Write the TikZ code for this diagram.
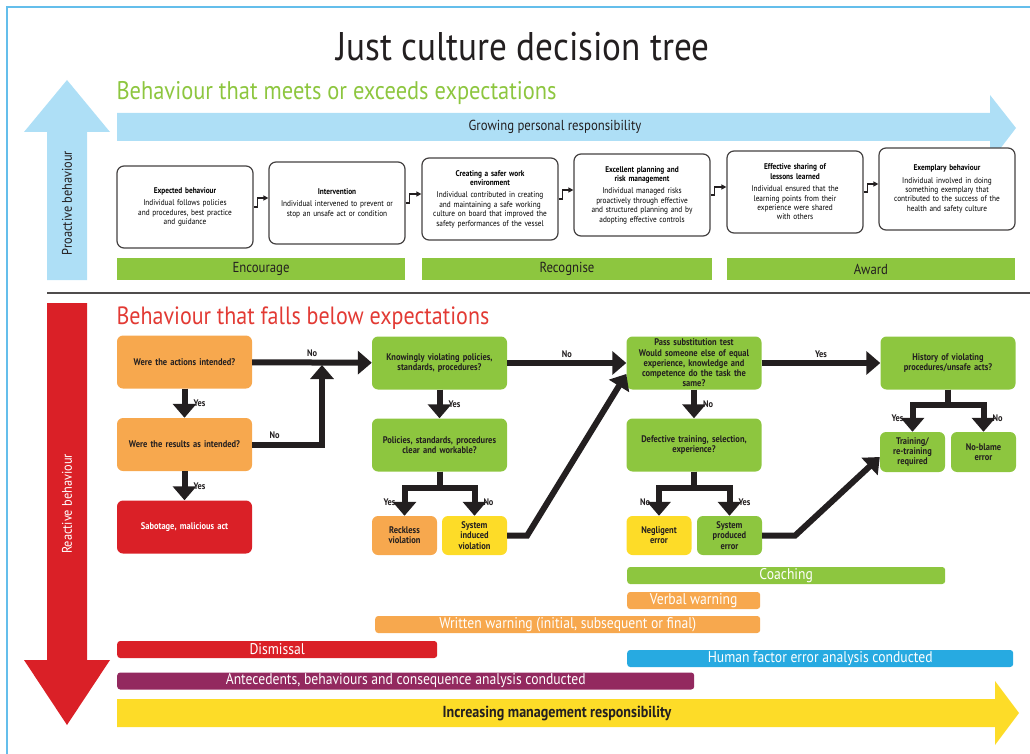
\documentclass[tikz,border=0pt]{standalone}
\usepackage{fontspec}
\setmainfont[FakeStretch=0.88]{PT Sans}
\usetikzlibrary{positioning,arrows.meta,calc}
\definecolor{framecolor}{RGB}{100,190,235}
\definecolor{skyblue}{RGB}{174,223,246}
\definecolor{leafgreen}{RGB}{141,198,63}
\definecolor{amber}{RGB}{247,168,78}
\definecolor{alertred}{RGB}{218,32,39}
\definecolor{headred}{RGB}{226,58,52}
\definecolor{sunyellow}{RGB}{253,220,40}
\definecolor{oceanblue}{RGB}{39,170,225}
\definecolor{plum}{RGB}{147,41,95}
\definecolor{inkcolor}{RGB}{35,31,32}

\begin{document}
\begin{tikzpicture}[x=1pt,y=-1pt,
    stage/.style={rectangle, draw=inkcolor!85, line width=1.2pt, fill=white, rounded corners=7pt, minimum width=136pt, minimum height=82pt, text width=132pt, align=center, inner sep=1pt, font=\fontsize{8.3}{9.4}\selectfont},
    stepline/.style={draw=inkcolor, line width=1.3pt, -{Triangle[length=5pt,width=5pt]}},
    stripe/.style={rectangle, fill=leafgreen, minimum height=22pt, inner sep=0pt, text=inkcolor, font=\fontsize{14.5}{16}\selectfont},
    decide/.style={rectangle, rounded corners=6pt, minimum width=135pt, minimum height=53pt, text width=132pt, align=center, inner sep=1pt, text=inkcolor, font=\bfseries\fontsize{9.6}{10.2}\selectfont},
    outcome/.style={decide, minimum width=65pt, text width=63pt, minimum height=39pt},
    flow/.style={draw=inkcolor, line width=6pt, -{Triangle[length=14pt,width=23pt]}},
    tag/.style={inner xsep=6pt, inner ysep=2.5pt, text=inkcolor, font=\bfseries\fontsize{9.5}{11}\selectfont},
    band/.style={rectangle, rounded corners=3pt, minimum height=17pt, inner sep=0pt, anchor=west, text=white, font=\fontsize{15.5}{16}\selectfont}
]
\useasboundingbox (0,0) rectangle (1030,754);
\draw[framecolor, line width=2pt] (7,754) -- (7,7) -- (1030,7);

\node[text=inkcolor, font=\fontsize{40}{44}\selectfont] (title) at (523,47) {Just culture decision tree};

% proactive part
\fill[skyblue] (47,280) -- (47,132) -- (24,132) -- (67,80) -- (110,132) -- (87,132) -- (87,280) -- cycle;
\node[rotate=90, text=inkcolor, font=\fontsize{14}{16}\selectfont] (proact) at (67,203) {Proactive behaviour};
\node[anchor=west, text=leafgreen, font=\fontsize{25.5}{28}\selectfont] (meets) at (113,93) {Behaviour that meets or exceeds expectations};
\fill[skyblue] (117,113) -- (990,113) -- (990,95) -- (1016,128) -- (990,162) -- (990,141) -- (117,141) -- cycle;
\node[text=inkcolor, font=\fontsize{14.5}{16}\selectfont] (grow) at (555,127) {Growing personal responsibility};

\node[stage] (expect) at (185,207) {{\bfseries Expected behaviour}\\[3pt]Individual follows policies\\and procedures, best practice\\and guidance};
\node[stage] (intervene) at (337,203) {{\bfseries Intervention}\\[3pt]Individual intervened to prevent or\\stop an unsafe act or condition};
\node[stage] (safer) at (490,199) {{\bfseries Creating a safer work\\environment}\\[3pt]Individual contributed in creating\\and maintaining a safe working\\culture on board that improved the\\safety performances of the vessel};
\node[stage] (planning) at (642,195) {{\bfseries Excellent planning and\\risk management}\\[3pt]Individual managed risks\\proactively through effective\\and structured planning and by\\adopting effective controls};
\node[stage] (sharing) at (795,192) {{\bfseries Effective sharing of\\lessons learned}\\[3pt]Individual ensured that the\\learning points from their\\experience were shared\\with others};
\node[stage] (exemplary) at (947,189) {{\bfseries Exemplary behaviour}\\[3pt]Individual involved in doing\\something exemplary that\\contributed to the success of the\\health and safety culture};

\draw[stepline] (expect.east) -- ++(4,0) |- ($(intervene.west)+(0,-5)$);
\draw[stepline] (intervene.east) -- ++(4,0) |- ($(safer.west)+(0,-5)$);
\draw[stepline] (safer.east) -- ++(4,0) |- ($(planning.west)+(0,-5)$);
\draw[stepline] (planning.east) -- ++(4,0) |- ($(sharing.west)+(0,-5)$);
\draw[stepline] (sharing.east) -- ++(4,0) |- ($(exemplary.west)+(0,-5)$);

\node[stripe, minimum width=288pt] (encourage) at (261,269) {Encourage};
\node[stripe, minimum width=290pt] (recognise) at (567,269) {Recognise};
\node[stripe, minimum width=288pt] (award) at (871,269) {Award};

\draw[inkcolor!80, line width=1.8pt] (47,293) -- (1030,293);

% reactive part
\fill[alertred] (47,303) -- (87,303) -- (87,660) -- (110,660) -- (67,725) -- (24,660) -- (47,660) -- cycle;
\node[rotate=90, text=white, font=\fontsize{14}{16}\selectfont] (react) at (67,504) {Reactive behaviour};
\node[anchor=west, text=headred, font=\fontsize{25}{28}\selectfont] (below) at (113,318) {Behaviour that falls below expectations};

\node[decide, fill=amber] (act) at (184.5,362) {Were the actions intended?};
\node[decide, fill=amber] (res) at (184.5,444.5) {Were the results as intended?};
\node[decide, fill=alertred, text=white] (sab) at (184.5,527) {Sabotage, malicious act};
\node[decide, fill=leafgreen] (know) at (439.5,363) {Knowingly violating policies,\\standards, procedures?};
\node[decide, fill=leafgreen] (pol) at (439.5,445) {Policies, standards, procedures\\clear and workable?};
\node[outcome, fill=amber] (reck) at (404.5,535.5) {Reckless\\violation};
\node[outcome, fill=sunyellow] (sysind) at (474.5,535.5) {System\\induced\\violation};
\node[decide, fill=leafgreen] (pass) at (694,363) {Pass substitution test\\Would someone else of equal\\experience, knowledge and\\competence do the task the\\same?};
\node[decide, fill=leafgreen] (defect) at (694,445) {Defective training, selection,\\experience?};
\node[outcome, fill=sunyellow] (negl) at (659,535.5) {Negligent\\error};
\node[outcome, fill=leafgreen] (sysprod) at (729.5,535.5) {System\\produced\\error};
\node[decide, fill=leafgreen] (hist) at (948,363) {History of violating\\procedures/unsafe acts?};
\node[outcome, fill=leafgreen, minimum height=40pt] (train) at (912.5,452) {Training/\\re-training\\required};
\node[outcome, fill=leafgreen, minimum height=40pt] (noblame) at (983.5,452) {No-blame\\error};

\coordinate (merge) at (322,365);
\draw[flow] (act) -- node[tag, above] {No} (know);
\draw[flow] (act) -- node[tag, right] {Yes} (res);
\draw[flow] (res.east) -| node[tag, pos=0.16, above] {No} (merge);
\draw[flow] (res) -- node[tag, right] {Yes} (sab);
\draw[flow] (know) -- node[tag, right] {Yes} (pol);
\draw[flow] (pol.south) -- ++(0,16) -| node[tag, pos=0.75, left] {Yes} (reck.north);
\draw[flow] (pol.south) -- ++(0,16) -| node[tag, pos=0.75, right] {No} (sysind.north);
\draw[flow] (know) -- node[tag, above] {No} (pass);
\draw[flow] (sysind.east) -- ++(20,0) -- ($(pass.west)+(0,11)$);
\draw[flow] (pass) -- node[tag, right] {No} (defect);
\draw[flow] (defect.south) -- ++(0,16) -| node[tag, pos=0.75, left] {No} (negl.north);
\draw[flow] (defect.south) -- ++(0,16) -| node[tag, pos=0.75, right] {Yes} (sysprod.north);
\draw[flow] (pass) -- node[tag, above] {Yes} (hist);
\draw[flow] (sysprod.east) -- ++(33,0) -- ($(train.west)+(0,5)$);
\draw[flow] (hist.south) -- ++(0,15) -| node[tag, pos=0.75, left] {Yes} (train.north);
\draw[flow] (hist.south) -- ++(0,15) -| node[tag, pos=0.75, right] {No} (noblame.north);

\node[band, fill=leafgreen, minimum width=318pt] (coach) at (627,575.5) {Coaching};
\node[band, fill=amber, minimum width=133pt] (verbal) at (627,600.5) {Verbal warning};
\node[band, fill=amber, minimum width=385pt] (written) at (375,624.5) {Written warning (initial, subsequent or final)};
\node[band, fill=alertred, minimum width=320pt] (dismiss) at (117,649.5) {Dismissal};
\node[band, fill=oceanblue, minimum width=386pt] (human) at (627,658.5) {Human factor error analysis conducted};
\node[band, fill=plum, minimum width=577pt] (antec) at (117,681) {Antecedents, behaviours and consequence analysis conducted};

\fill[sunyellow] (117,699) -- (995,699) -- (995,681) -- (1019,713) -- (995,745) -- (995,727) -- (117,727) -- cycle;
\node[text=inkcolor, font=\bfseries\fontsize{16}{18}\selectfont] (mgmt) at (557,713) {Increasing management responsibility};
\end{tikzpicture}
\end{document}
